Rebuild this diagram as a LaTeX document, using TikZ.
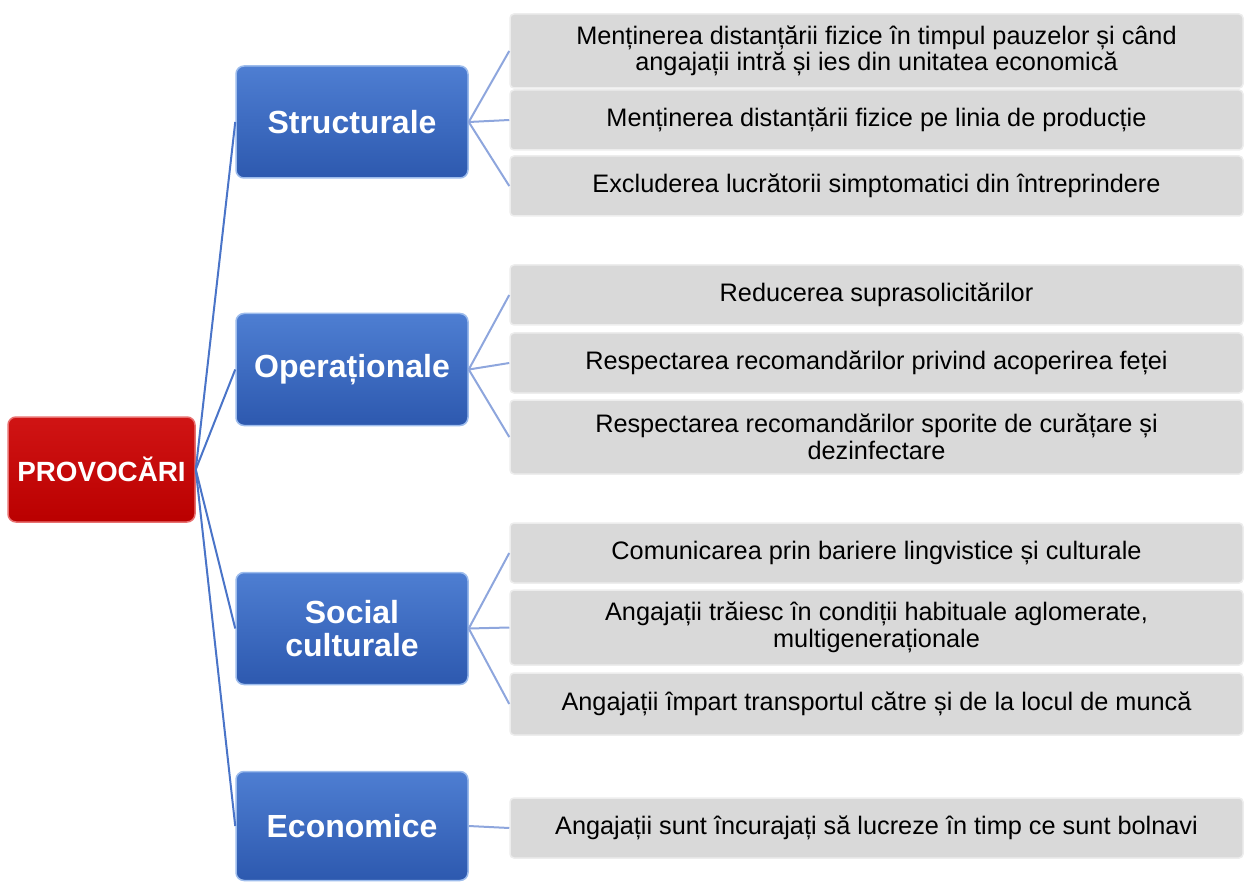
\documentclass[tikz,border=0pt]{standalone}
\usepackage{fontspec}
\setmainfont{Liberation Sans}
\definecolor{rootTop}{HTML}{D01414}
\definecolor{rootBot}{HTML}{BA0000}
\definecolor{rootEdge}{HTML}{E87070}
\definecolor{catTop}{HTML}{4E7ED2}
\definecolor{catBot}{HTML}{2D59AF}
\definecolor{catEdge}{HTML}{9DBCEC}
\definecolor{itemFill}{HTML}{D9D9D9}
\definecolor{itemEdge}{HTML}{EDEDED}
\definecolor{linkA}{HTML}{4A74C8}
\definecolor{linkB}{HTML}{8EA6DD}
\begin{document}
\begin{tikzpicture}[x=1pt,y=-1pt,
 root/.style={rounded corners=8pt, top color=rootTop, bottom color=rootBot, draw=rootEdge, line width=1.5pt, text=white, font=\fontsize{27.8}{30}\selectfont\bfseries, minimum width=187pt, minimum height=105pt, inner sep=0pt},
 cat/.style={rounded corners=8pt, top color=catTop, bottom color=catBot, draw=catEdge, line width=1.5pt, text=white, font=\fontsize{32}{33}\selectfont\bfseries, minimum width=232pt, minimum height=112pt, align=center, inner sep=0pt},
 item/.style={rounded corners=4pt, fill=itemFill, draw=itemEdge, line width=1.5pt, font=\fontsize{25.3}{26.5}\selectfont, minimum width=733pt, minimum height=60pt, align=center, inner sep=0pt},
 link/.style={draw=linkA, line width=2pt},
 sublink/.style={draw=linkB, line width=2pt}]
\useasboundingbox (0,0) rectangle (1244,882);
% root
\node[root] (r) at (101.5,469.5) {PROVOCĂRI};
% categories
\node[cat] (c1) at (352,122) {Structurale};
\node[cat] (c2) at (352,369.5) {Operaționale};
\node[cat] (c3) at (352,628.5) {Social\\culturale};
\node[cat, minimum height=109pt] (c4) at (352,826) {Economice};
% items
\node[item, minimum height=74pt] (i1a) at (876.5,51) {Menținerea distanțării fizice în timpul pauzelor și când\\angajații intră și ies din unitatea economică};
\node[item] (i1b) at (876.5,120) {Menținerea distanțării fizice pe linia de producție};
\node[item] (i1c) at (876.5,186) {Excluderea lucrătorii simptomatici din întreprindere};
\node[item] (i2a) at (876.5,295) {Reducerea suprasolicitărilor};
\node[item] (i2b) at (876.5,363) {Respectarea recomandărilor privind acoperirea feței};
\node[item, minimum height=74pt] (i2c) at (876.5,437) {Respectarea recomandărilor sporite de curățare și\\dezinfectare};
\node[item] (i3a) at (876.5,553) {Comunicarea prin bariere lingvistice și culturale};
\node[item, minimum height=75pt] (i3b) at (876.5,627.5) {Angajații trăiesc în condiții habituale aglomerate,\\multigeneraționale};
\node[item, minimum height=62pt] (i3c) at (876.5,704) {Angajații împart transportul către și de la locul de muncă};
\node[item] (i4) at (876.5,828) {Angajații sunt încurajați să lucreze în timp ce sunt bolnavi};
% connectors
\foreach \c in {c1,c2,c3,c4} \draw[link] (r.east) -- (\c.west);
\foreach \i in {i1a,i1b,i1c} \draw[sublink] (c1.east) -- (\i.west);
\foreach \i in {i2a,i2b,i2c} \draw[sublink] (c2.east) -- (\i.west);
\foreach \i in {i3a,i3b,i3c} \draw[sublink] (c3.east) -- (\i.west);
\draw[sublink] (c4.east) -- (i4.west);
\end{tikzpicture}
\end{document}
